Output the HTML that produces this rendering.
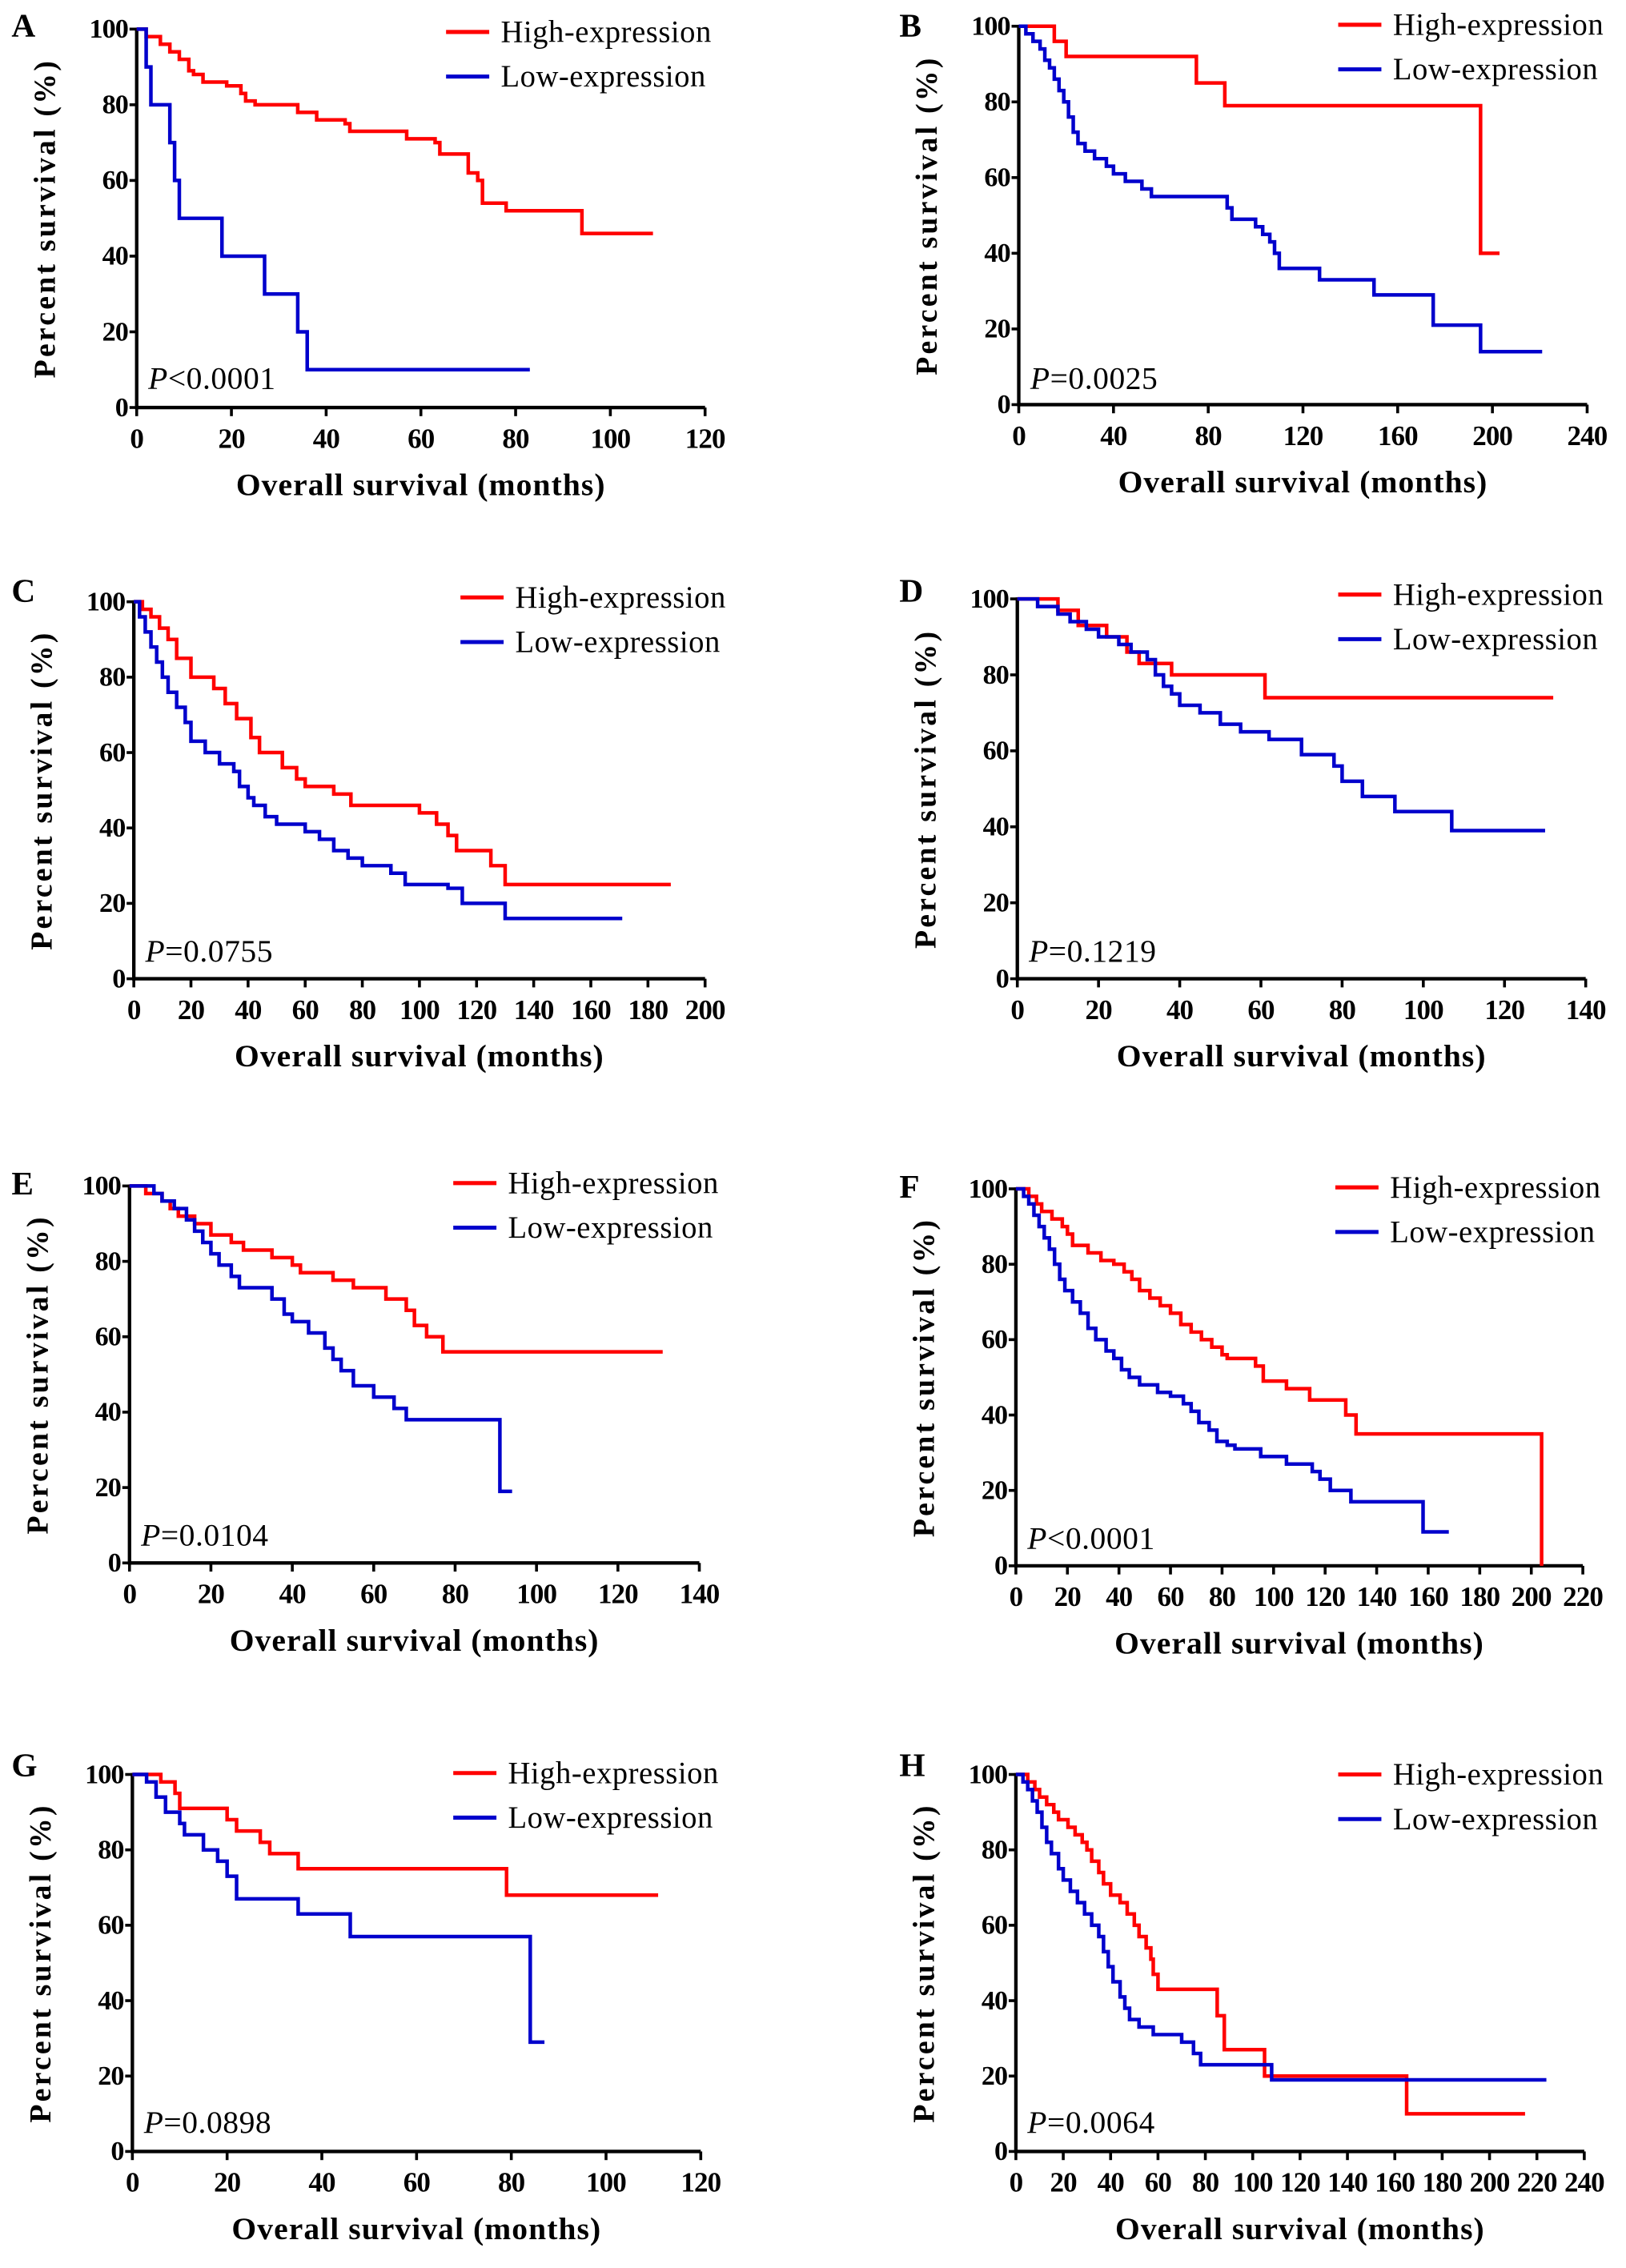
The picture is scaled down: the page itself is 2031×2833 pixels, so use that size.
<!DOCTYPE html>
<html><head><meta charset="utf-8"><style>
html,body{margin:0;padding:0;background:#fff}
svg text{font-family:"Liberation Serif",serif}
</style></head><body>
<svg id="fig" width="2031" height="2828" viewBox="0 0 1130 1573" xmlns="http://www.w3.org/2000/svg"></svg>
<script>
const panelLabels = ["A","B","C","D","E","F","G","H"];
const pValues = ["<0.0001","=0.0025","=0.0755","=0.1219","=0.0104","<0.0001","=0.0898","=0.0064"];
const xMaxes = [120,240,200,140,140,220,120,240];
const xSteps = [20,40,20,20,20,20,20,20];
const highA=[[0,100],[2,98],[5,96],[7,94],[9,92],[11,89],[12,88],[14,86],[19,85],[22,83],[23,81],[25,80],[34,78],[38,76],[44,75],[45,73],[57,71],[63,70],[64,67],[70,62],[72,60],[73,54],[78,52],[94,46]];
const lowA=[[0,100],[2,90],[3,80],[7,70],[8,60],[9,50],[18,40],[27,30],[34,20],[36,10]];
const highB=[[0,100],[15,96],[20,92],[75,85],[87,79],[195,40]];
const lowB=[[0,100],[3,98],[6,96],[9,94],[11,91],[13,89],[15,86],[17,83],[19,80],[21,76],[23,72],[25,69],[28,67],[32,65],[37,63],[40,61],[45,59],[52,57],[56,55],[88,52],[90,49],[100,47],[103,45],[106,43],[108,40],[110,36],[127,33],[150,29],[175,21],[195,14]];
const highC=[[0,100],[3,98],[6,96],[9,93],[12,90],[15,85],[20,80],[28,77],[32,73],[36,69],[41,64],[44,60],[52,56],[57,53],[60,51],[70,49],[76,46],[100,44],[106,41],[110,38],[113,34],[125,30],[130,25]];
const lowC=[[0,100],[2,96],[4,92],[6,88],[8,84],[10,80],[12,76],[15,72],[18,68],[20,63],[25,60],[30,57],[35,55],[37,51],[40,48],[42,46],[46,43],[50,41],[60,39],[65,37],[70,34],[75,32],[80,30],[90,28],[95,25],[110,24],[115,20],[130,16]];
const highD=[[0,100],[10,97],[15,93],[22,90],[27,86],[30,83],[38,80],[61,74]];
const lowD=[[0,100],[5,98],[10,96],[13,94],[17,92],[20,90],[25,88],[28,86],[32,84],[34,80],[36,77],[38,75],[40,72],[45,70],[50,67],[55,65],[62,63],[70,59],[78,56],[80,52],[85,48],[93,44],[107,39]];
const highE=[[0,100],[4,98],[8,96],[10,94],[12,92],[16,90],[20,87],[25,85],[28,83],[35,81],[40,79],[42,77],[50,75],[55,73],[63,70],[68,67],[70,63],[73,60],[77,56]];
const lowE=[[0,100],[6,98],[8,96],[11,94],[14,91],[16,88],[18,85],[20,82],[22,79],[25,76],[27,73],[35,70],[38,66],[40,64],[44,61],[48,57],[50,54],[52,51],[55,47],[60,44],[65,41],[68,38],[91,19]];
const highF=[[0,100],[5,98],[8,96],[10,94],[14,92],[18,90],[20,88],[22,85],[28,83],[33,81],[38,80],[42,78],[45,76],[48,73],[52,71],[56,69],[60,67],[64,64],[68,62],[72,60],[76,58],[80,56],[82,55],[93,53],[96,49],[105,47],[114,44],[128,40],[132,35],[204,0]];
const lowF=[[0,100],[3,98],[5,96],[7,93],[9,90],[11,87],[13,84],[15,80],[17,76],[19,73],[22,70],[25,67],[28,63],[31,60],[35,57],[38,55],[41,52],[44,50],[48,48],[55,46],[60,45],[65,43],[68,41],[71,38],[75,36],[78,33],[82,32],[85,31],[95,29],[105,27],[115,25],[118,23],[122,20],[130,17],[158,9]];
const highG=[[0,100],[6,98],[9,95],[10,91],[20,88],[22,85],[27,82],[29,79],[35,75],[79,68]];
const lowG=[[0,100],[3,98],[5,94],[7,90],[10,87],[11,84],[15,80],[18,77],[20,73],[22,67],[35,63],[46,57],[84,29]];
const highH=[[0,100],[5,98],[8,96],[10,94],[13,92],[16,90],[18,88],[22,86],[25,84],[28,82],[30,80],[32,77],[35,74],[37,71],[40,68],[44,66],[47,63],[50,60],[52,57],[55,54],[57,51],[58,47],[60,43],[85,36],[88,27],[105,20],[165,10]];
const lowH=[[0,100],[3,98],[5,96],[7,93],[9,90],[11,86],[13,82],[15,79],[18,75],[20,72],[23,69],[26,66],[29,63],[32,60],[35,57],[37,53],[39,49],[41,45],[44,41],[46,38],[48,35],[52,33],[58,31],[70,29],[75,26],[78,23],[108,19]];
const highSeries=[highA,highB,highC,highD,highE,highF,highG,highH];
const lowSeries=[lowA,lowB,lowC,lowD,lowE,lowF,lowG,lowH];
const highEnd=[109,203,188,132,131,204,111,215];
const lowEnd=[83,221,171,130,94,168,87,224];
const yTicks=[0,20,40,60,80,100];

const L=[
 {x0:95,x1:490,y0:283,y1:20,lab:[8,25],lg:[310,22],py:270},
 {x0:708,x1:1103,y0:281,y1:18,lab:[625,25],lg:[930,17],py:270},
 {x0:93,x1:490,y0:680,y1:418,lab:[8,418],lg:[320,415],py:668},
 {x0:707,x1:1102,y0:680,y1:416,lab:[625,418],lg:[930,413],py:668},
 {x0:90,x1:486,y0:1086,y1:824,lab:[8,830],lg:[315,822],py:1074},
 {x0:706,x1:1100,y0:1088,y1:826,lab:[625,832],lg:[928,825],py:1076},
 {x0:92,x1:487,y0:1495,y1:1233,lab:[8,1234],lg:[315,1232],py:1482},
 {x0:706,x1:1101,y0:1495,y1:1233,lab:[625,1234],lg:[930,1233],py:1482}
];
const NS="http://www.w3.org/2000/svg";
const svg=document.getElementById('fig');
function mk(tag,attrs,parent,txt){const e=document.createElementNS(NS,tag);for(const k in attrs)e.setAttribute(k,attrs[k]);if(txt!==undefined)e.textContent=txt;parent.appendChild(e);return e;}
function stepPath(pts,end,sx,sy){let d=`M${sx(pts[0][0])},${sy(pts[0][1])}`;for(let i=1;i<pts.length;i++){d+=`H${sx(pts[i][0])}V${sy(pts[i][1])}`;}d+=`H${sx(end)}`;return d;}
for(let i=0;i<8;i++){
 const l=L[i];
 const g=mk('g',{},svg);
 
 
 const sx=v=>l.x0+(v/xMaxes[i])*(l.x1-l.x0);
 const sy=v=>l.y0-(v/100)*(l.y0-l.y1);
 const pl=mk('text',{x:l.lab[0],y:l.lab[1],'font-size':23,'font-weight':'bold'},g,panelLabels[i]);
 
 
 const ax=mk('path',{d:`M${l.x0},${l.y1-1}V${l.y0}H${l.x1}`,stroke:'#000','stroke-width':2.4,fill:'none'},g);
 
 
 for(const t of yTicks){
  mk('line',{x1:l.x0-5,x2:l.x0,y1:sy(t),y2:sy(t),stroke:'#000','stroke-width':2},g);
  const tl=mk('text',{x:l.x0-6,y:sy(t)+6,'font-size':19,'font-weight':'bold','text-anchor':'end','letter-spacing':'-0.5'},g,String(t));
  
  
 }
 for(let t=0;t<=xMaxes[i];t+=xSteps[i]){
  mk('line',{x1:sx(t),x2:sx(t),y1:l.y0,y2:l.y0+6,stroke:'#000','stroke-width':2},g);
  const tl=mk('text',{x:sx(t),y:l.y0+28,'font-size':19.5,'font-weight':'bold','text-anchor':'middle','letter-spacing':'-0.5'},g,String(t));
  
  
 }
 const xt=mk('text',{x:(l.x0+l.x1)/2,y:l.y0+61,'font-size':22,'font-weight':'bold','text-anchor':'middle','letter-spacing':'0.6'},g,'Overall survival (months)');
 
 
 const ycx=l.x0-57, ycy=(l.y0+l.y1)/2;
 const yt=mk('text',{x:ycx,y:ycy,'font-size':21,'font-weight':'bold','text-anchor':'middle',transform:`rotate(-90 ${ycx} ${ycy})`,'letter-spacing':'1.8'},g,'Percent survival (%)');
 
 
 const hp=mk('path',{d:stepPath(highSeries[i],highEnd[i],sx,sy),stroke:'#ff0000','stroke-width':2.5,fill:'none'},g);
 
 
 const lp=mk('path',{d:stepPath(lowSeries[i],lowEnd[i],sx,sy),stroke:'#0000cc','stroke-width':2.5,fill:'none'},g);
 
 
 const lg=mk('g',{},g);
 
 
 mk('line',{x1:l.lg[0],x2:l.lg[0]+30,y1:l.lg[1],y2:l.lg[1],stroke:'#ff0000','stroke-width':2.8},lg);
 const t1=mk('text',{x:l.lg[0]+38,y:l.lg[1]+7,'font-size':21.5,'letter-spacing':'0.3'},lg,'High-expression');
 
 
 mk('line',{x1:l.lg[0],x2:l.lg[0]+30,y1:l.lg[1]+31,y2:l.lg[1]+31,stroke:'#0000cc','stroke-width':2.8},lg);
 const t2=mk('text',{x:l.lg[0]+38,y:l.lg[1]+38,'font-size':21.5,'letter-spacing':'0.3'},lg,'Low-expression');
 
 
 const pt=mk('text',{x:l.x0+8,y:l.py,'font-size':22,'letter-spacing':'0.3'},g);
 
 
 mk('tspan',{'font-style':'italic'},pt,'P');
 mk('tspan',{},pt,pValues[i]);
}
</script>
</body></html>
